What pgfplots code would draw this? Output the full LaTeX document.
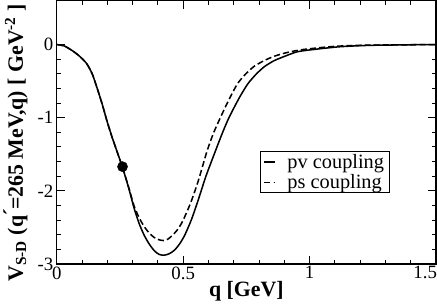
\documentclass[border=0pt]{standalone}
\usepackage{fontspec}
\setmainfont{Liberation Serif}
\usepackage{pgfplots}
\pgfplotsset{compat=1.18}
\pgfplotstableread{
q y
0 0
0.03 -0.02
0.064 -0.09
0.09 -0.16
0.118 -0.26
0.14 -0.40
0.158 -0.58
0.18 -0.82
0.198 -1.04
0.218 -1.26
0.238 -1.46
0.26 -1.68
0.285 -1.97
0.306 -2.24
0.326 -2.45
0.346 -2.61
0.366 -2.73
0.386 -2.82
0.405 -2.87
0.425 -2.88
0.445 -2.86
0.466 -2.81
0.487 -2.72
0.507 -2.60
0.533 -2.39
0.56 -2.12
0.59 -1.80
0.627 -1.46
0.655 -1.21
0.681 -1.00
0.72 -0.74
0.755 -0.54
0.79 -0.40
0.822 -0.30
0.86 -0.22
0.902 -0.16
0.95 -0.10
1.01 -0.07
1.12 -0.03
1.25 -0.01
1.5 0
}\pv
\pgfplotstableread{
q y
0 0
0.03 -0.02
0.064 -0.09
0.09 -0.16
0.118 -0.26
0.14 -0.40
0.158 -0.58
0.18 -0.82
0.198 -1.04
0.218 -1.26
0.238 -1.46
0.26 -1.68
0.285 -1.96
0.306 -2.21
0.326 -2.37
0.346 -2.49
0.366 -2.58
0.386 -2.64
0.405 -2.67
0.422 -2.68
0.44 -2.66
0.46 -2.60
0.48 -2.52
0.50 -2.40
0.53 -2.16
0.56 -1.86
0.594 -1.46
0.62 -1.21
0.647 -1.00
0.68 -0.76
0.714 -0.54
0.745 -0.41
0.78 -0.30
0.82 -0.22
0.86 -0.16
0.91 -0.11
0.97 -0.07
1.08 -0.03
1.2 -0.01
1.5 0
}\ps
\pgfplotstableread{
q y
0.26 -1.67
}\mark
\begin{document}
\begin{tikzpicture}
\begin{axis}[
  scale only axis,
  width=373pt, height=259pt,
  xmin=0, xmax=1.5, ymin=-3, ymax=0.6,
  xtick={0,0.5,1,1.5}, ytick={-3,-2,-1,0},
  xticklabels={0,0.5,1,\makebox[2pt][r]{1.5}},
  yticklabels={-3,-2,-1,0},
  minor x tick num=4, minor y tick num=4,
  tick align=inside,
  major tick length=8pt, minor tick length=4pt,
  every tick/.style={black, line width=1pt},
  axis line style={line width=1.3pt},
  tick label style={font=\fontsize{18.5}{20}\selectfont},
  xticklabel style={yshift=1pt, inner xsep=0pt},
  xlabel={\textbf{q [GeV]}},
  ylabel={\textbf{V\textsubscript{S-D} (q\kern0.5pt\'{}=265 MeV,q) [ GeV\textsuperscript{-2} ]}},
  label style={font=\fontsize{21.5}{23}\selectfont},
  xlabel style={yshift=5pt},
  ylabel style={at={(ticklabel cs:0.46)}, yshift=3pt},
  legend style={at={(0.536,0.429)}, anchor=north west, draw=black, line width=1pt,
    font=\fontsize{20}{22}\selectfont, inner xsep=3pt, inner ysep=1.5pt, row sep=3pt,
    nodes={inner xsep=2pt, inner ysep=1pt},
    /tikz/every odd column/.append style={column sep=10pt}},
  legend cell align=left,
  legend image code/.code={\draw[#1, line width=1.5pt] (0pt,0pt) -- (10pt,0pt);},
]
\addplot[black, line width=1.5pt, smooth, tension=0.4] table[x=q,y=y] {\pv};
\addlegendentry{pv coupling}
\addplot[black, line width=1.5pt, dash pattern=on 6pt off 3pt, smooth, tension=0.4] table[x=q,y=y] {\ps};
\addlegendentry{ps coupling}
\addplot[only marks, mark=*, mark size=5pt, black, forget plot] table[x=q,y=y] {\mark};
\end{axis}
\end{tikzpicture}
\end{document}
